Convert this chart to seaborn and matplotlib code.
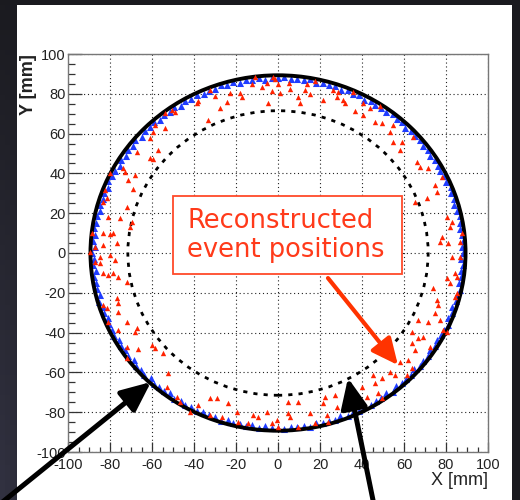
import numpy as np
import pandas as pd
import matplotlib
matplotlib.use("Agg")
import matplotlib.pyplot as plt
from matplotlib.patches import Circle, Rectangle, FancyArrowPatch
from matplotlib.ticker import MultipleLocator
import seaborn as sns

# Reconstructed event positions (mm)
event_x = [
    -10.9, -12.5, -7.7, -5.4, -2.2, -1.4, 0.2, -3.0, -4.6, 5.0, 5.8, 9.7, 10.5, 13.7, 17.7, 12.9,
    -18.1, -17.3, -22.8, -24.4, -27.6, -32.3,
    -30.0, -38.7, -37.9, -49.0, -50.6, -53.8, -33.2, -58.6, -53.8, -59.4, -61.0, -57.0, -67.3,
    -61.0, -59.4, -73.6, -72.9, -80.0, -68.1, -71.3, -68.9, -82.4, -81.6, -83.2, -72.1, -80.8,
    -75.2, -69.7, -70.5, -88.7, -83.2, -80.0, -78.4, -76.8, -83.2, -87.1, -89.5,
    1.0, 15.2, 21.6, 26.3, 28.7, 27.9, 31.1, 31.9, 35.9, 40.6, 43.8, 36.7, 40.6, 48.5, 46.2,
    49.4, 54.9, 53.3, 54.9, 58.9, 58.1, 64.4, 66.0, 67.6, 71.6, 77.9, 74.8, 75.6, 65.2, 70.8,
    80.3, 82.7, 81.9, 87.5, 77.9, 81.1, 77.1, 86.7,
    -87.1, -84.8, -83.2, -80.8, -78.4, -76.0, -77.6, -80.0, -84.8, -72.1, -76.8, -76.0, -76.0,
    -83.2, -81.6, -80.8, -72.1, -67.3, -76.0, -68.1, -72.1, -66.5, -60.2, -58.6, -54.6, -72.1,
    -52.2, -53.0, -48.2, -46.7, -41.9, -38.0, -32.4, -29.2, -23.6, -32.4, -26.8, -19.7, -18.9,
    -11.7, -9.4, -5.4, -14.1, -3.0, -0.6,
    82.7, 86.7, 84.3, 85.1, 80.3, 81.9, 85.1, 84.3, 74.0, 75.6, 76.3, 74.8, 71.6, 66.8, 77.1,
    78.7, 80.3, 63.6, 66.8, 69.2, 72.4, 63.6, 65.2, 62.1, 63.6, 58.1, 53.3, 55.7, 61.3, 45.4,
    49.4, 46.2, 39.8, 47.8, 42.2, 49.4, 27.1, 22.4, 21.6, 27.9, 9.7, 4.9, 4.9, 5.7, 15.2,
    17.6, 23.2, 24.0, 0.2, 9.7,
]
event_y = [
    88.3, 84.7, 83.2, 85.2, 88.6, 87.3, 84.7, 81.6, 75.5, 85.2, 82.2, 78.5, 75.2, 84.7, 86.6, 81.9,
    80.2, 78.5, 80.2, 76.0, 72.7, 81.9,
    78.9, 75.2, 76.6, 71.1, 71.9, 70.2, 66.9, 64.4, 62.7, 61.0, 57.7, 51.8, 51.0,
    47.6, 47.1, 42.6, 40.9, 40.1, 39.2, 36.7, 32.0, 31.7, 27.5, 25.8, 23.3, 18.3,
    17.5, 15.8, 13.3, 9.9, 9.9, 9.6, 9.9, 4.9, 4.1, 3.2, 0.7,
    80.3, 79.9, 76.9, 82.0, 81.1, 78.6, 76.9, 75.2, 81.1, 75.2, 72.7, 71.6, 69.4, 74.0, 66.0,
    65.2, 64.4, 61.0, 56.0, 56.0, 51.8, 58.5, 45.9, 43.4, 42.6, 38.4, 34.2, 30.9, 25.8, 27.5,
    18.3, 15.8, 13.3, 9.9, 8.2, 4.9, 5.7, 5.7,
    -4.3, -5.2, -10.2, -11.1, -10.2, -11.9, -3.5, -1.0, -1.8, -14.4, -22.8, -25.3, -29.5,
    -26.1, -27.8, -34.5, -34.5, -37.9, -38.7, -39.5, -47.1, -48.4, -46.2, -47.9, -50.4, -52.9,
    -60.5, -67.2, -72.2, -74.7, -79.7, -76.4, -73.0, -73.0, -75.5, -81.4, -82.2, -79.7, -84.8,
    -81.4, -82.2, -79.7, -85.6, -85.6, -83.9,
    -1.8, -1.8, -10.2, -11.9, -12.7, -15.2, -20.3, -21.9, -17.8, -23.6, -26.1, -30.3, -34.5, -33.7, -33.7,
    -38.7, -39.5, -39.5, -42.9, -42.0, -47.1, -45.4, -48.7, -53.8, -58.0, -54.6, -59.6, -61.3, -61.3, -61.3,
    -63.0, -65.5, -67.2, -70.5, -72.2, -73.0, -71.4, -72.2, -75.5, -77.2, -74.7, -74.7, -80.6, -82.2, -80.6,
    -85.6, -81.4, -84.8, -87.3, -87.3,
]

# Hits collected along the detector edge: polar angle (deg) and radius (mm)
edge_angle = [
    0, 2, 4, 6, 8, 10, 12, 14, 16, 18, 20, 22, 24, 26, 28, 30, 32, 34, 36, 38,
    40, 42, 44, 46, 48, 50, 52, 54, 56, 58, 60, 62, 64, 66, 68, 70, 72, 74, 76, 78,
    80, 82, 84, 86, 88, 90, 92, 94, 96, 98, 100, 102, 104, 106, 108, 110, 112, 114, 116, 118,
    120, 122, 124, 126, 128, 130, 132, 134, 136, 138, 140, 142, 144, 146, 148, 150, 152, 154, 156, 158,
    160, 162, 164, 166, 168, 170, 172, 174, 176, 178, 180, 182, 184, 186, 188, 190, 192, 194, 196, 198,
    200, 202, 204, 206, 208, 210, 212, 214, 216, 218, 220, 222, 224, 226, 228, 230, 232, 234, 236, 238,
    240, 242, 244, 246, 248, 250, 252, 254, 256, 258, 260, 262, 264, 266, 268, 270, 272, 274, 276, 278,
    280, 282, 284, 286, 288, 290, 292, 294, 296, 298, 300, 302, 304, 306, 308, 310, 312, 314, 316, 318,
    320, 322, 324, 326, 328, 330, 332, 334, 336, 338, 340, 342, 344, 346, 348, 350, 352, 354, 356, 358,
]
edge_radius = [
    88.2, 87.6, 88.4, 87.9, 87.3, 88.1, 88.5, 87.7, 87.0, 88.3, 87.8, 88.6, 87.4, 88.0, 87.6, 87.9, 88.4, 87.2, 88.1, 87.7,
    88.5, 87.5, 88.2, 87.0, 88.3, 87.8, 88.6, 87.3, 88.0, 87.6, 88.4, 87.1, 88.2, 87.7, 88.5, 87.4, 88.0, 87.9, 88.3, 87.2,
    88.6, 87.6, 88.1, 87.5, 88.4, 87.8, 88.2, 87.0, 88.5, 87.7, 88.1, 87.3, 88.4, 87.9, 88.6, 87.5, 88.0, 87.2, 88.3, 87.8,
    88.1, 87.4, 88.5, 87.6, 88.2, 87.1, 88.4, 87.9, 88.0, 87.3, 88.6, 87.7, 88.2, 87.5, 88.3, 87.0, 88.1, 87.8, 88.5, 87.4,
    88.0, 87.6, 88.4, 87.2, 88.3, 87.9, 88.6, 87.5, 88.1, 87.3, 88.5, 87.7, 88.2, 87.0, 88.4, 87.8, 88.0, 87.4, 88.6, 87.6,
    88.3, 87.1, 88.1, 87.9, 88.5, 87.3, 88.2, 87.6, 88.4, 87.0, 88.0, 87.7, 88.6, 87.4, 88.3, 87.8, 88.1, 87.2, 88.5, 87.5,
    88.2, 87.9, 88.4, 87.3, 88.0, 87.6, 88.6, 87.1, 88.3, 87.8, 88.1, 87.5, 88.5, 87.2, 88.2, 87.9, 88.4, 87.4, 88.0, 87.7,
    88.6, 87.3, 88.1, 87.8, 88.3, 87.0, 88.5, 87.6, 88.2, 87.4, 88.4, 87.9, 88.0, 87.2, 88.6, 87.5, 88.1, 87.7, 88.3, 87.1,
    88.5, 87.8, 88.2, 87.3, 88.4, 87.6, 88.0, 87.9, 88.6, 87.4, 88.1, 87.0, 88.3, 87.7, 88.5, 87.5, 88.2, 87.8, 88.4, 87.3,
]

outer_radius = 89.3
inner_radius = 71.5

ticks = [-100, -80, -60, -40, -20, 0, 20, 40, 60, 80, 100]
tick_labels = ["-100", "-80", "-60", "-40", "-20", "0", "20", "40", "60", "80", "100"]

sns.set_theme(style="white")
plt.rcParams["font.family"] = ["Liberation Sans", "DejaVu Sans"]

W, H = 520, 500
fig = plt.figure(figsize=(W / 100, H / 100), dpi=100)

# slide background with a faint lighter corner at the bottom left
bg = fig.add_axes([0, 0, 1, 1], zorder=-10)
gy, gx = np.mgrid[0:1:100j, 0:1:104j]
base = np.array([0.105, 0.105, 0.125])
lift = np.array([0.09, 0.09, 0.13])
shade = np.clip((1 - gx * 6), 0, 1)[..., None] * gy[..., None]
img = base + lift * shade
bg.imshow(img, extent=[0, 1, 0, 1], origin="upper", aspect="auto")
bg.add_patch(Rectangle((17 / W, 0), (512 - 17) / W, 495 / H, facecolor="white",
                       edgecolor="none", transform=bg.transAxes))
bg.set_xlim(0, 1)
bg.set_ylim(0, 1)
bg.axis("off")

ax = fig.add_axes([68 / W, 48 / H, 420 / W, 398 / H])
ax.set_facecolor("white")

theta = np.deg2rad(np.array(edge_angle))
r = np.array(edge_radius)
edge = pd.DataFrame({"x": r * np.cos(theta), "y": r * np.sin(theta)})
events = pd.DataFrame({"x": event_x, "y": event_y})

sns.scatterplot(data=edge, x="x", y="y", ax=ax, color="#1f3cff", marker="^",
                s=26, linewidth=0, zorder=2)
ax.add_patch(Circle((0, 0), outer_radius, fill=False, color="black", lw=2.8, zorder=3))
ax.add_patch(Circle((0, 0), inner_radius, fill=False, color="black", lw=2.0,
                    linestyle=(0, (1.5, 2.2)), zorder=3))
sns.scatterplot(data=events, x="x", y="y", ax=ax, color="#ff2200", marker="^",
                s=15, linewidth=0, zorder=4)

ax.set_xlim(-100, 100)
ax.set_ylim(-100, 100)
ax.set_xticks(ticks)
ax.set_xticklabels(tick_labels)
ax.set_yticks(ticks)
ax.set_yticklabels(tick_labels)
ax.xaxis.set_minor_locator(MultipleLocator(5))
ax.yaxis.set_minor_locator(MultipleLocator(5))
ax.tick_params(axis="both", which="both", direction="in", bottom=True, left=True,
               top=False, right=False, colors="#333333", labelcolor="#222222",
               labelsize=10.5, width=0.9)
ax.tick_params(axis="x", which="major", length=7, pad=4)
ax.tick_params(axis="x", which="minor", length=3.6)
ax.tick_params(axis="y", which="major", length=10, pad=1.5)
ax.tick_params(axis="y", which="minor", length=5)
ax.grid(True, which="major", color="#222222", linestyle=(0, (1, 2.5)), linewidth=0.8)
for s in ax.spines.values():
    s.set_color("#777777")
    s.set_linewidth(1.0)

ax.set_xlabel("X [mm]", fontsize=13, loc="right", color="#222222")
ax.xaxis.set_label_coords(1.0, -0.05)
ax.set_ylabel("Y [mm]", fontsize=13, loc="top", fontweight="bold", color="#222222")
ax.yaxis.set_label_coords(-0.074, 1.0)

# annotation box
ax.add_patch(Rectangle((-50.0, -10.6), 109.0, 39.2, facecolor="white",
                       edgecolor="#ff4a2a", lw=1.3, zorder=6))
ax.text(-43.3, 9.0, "Reconstructed\nevent positions", ha="left", va="center",
        fontsize=18.5, family=["DejaVu Sans"], color="#ff3a1a", linespacing=1.15, zorder=7)
ax.add_patch(FancyArrowPatch((23.8, -12.6), (57.1, -56.3), transform=ax.transData,
                             arrowstyle="-|>,head_length=1.6,head_width=0.75",
                             mutation_scale=10, lw=3.0, color="#ff3300",
                             shrinkA=0, shrinkB=0, zorder=7, clip_on=False))

# pointers to the outer and inner rings
for (x0, y0), (x1, y1) in [((-9.5, 511.7), (151, 382)), ((374, 505), (348, 378))]:
    fig.add_artist(FancyArrowPatch((x0 / W, 1 - y0 / H), (x1 / W, 1 - y1 / H),
                                   transform=fig.transFigure,
                                   arrowstyle="-|>,head_length=1.8,head_width=0.8",
                                   mutation_scale=10, lw=3.6, color="black",
                                   shrinkA=0, shrinkB=0, zorder=10, clip_on=False))

fig.savefig("out.png", dpi=100)
